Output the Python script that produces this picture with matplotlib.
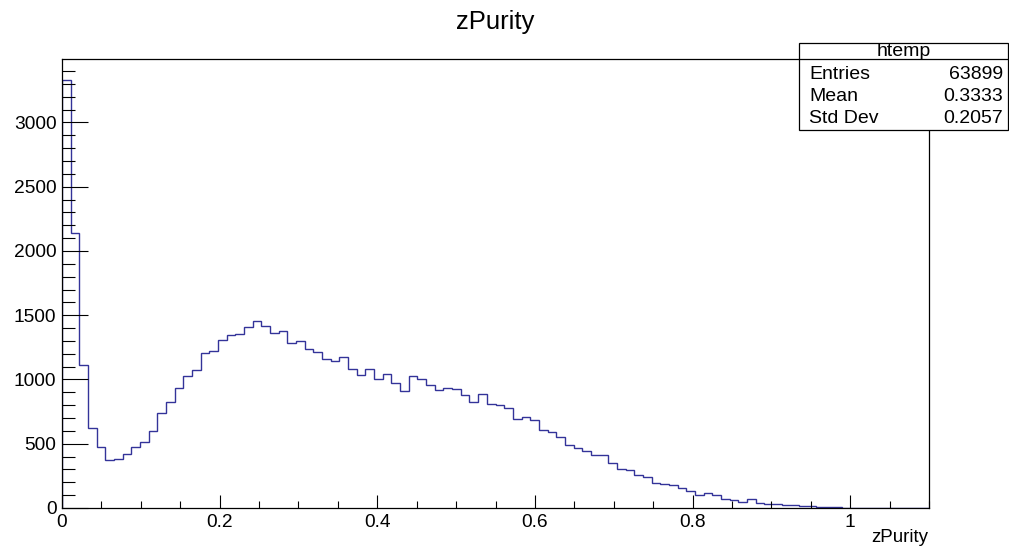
import numpy as np
import matplotlib
matplotlib.use("Agg")
import matplotlib.pyplot as plt
from matplotlib.patches import Rectangle
from matplotlib.lines import Line2D
from matplotlib.ticker import MultipleLocator, FuncFormatter

plt.rcParams['font.family'] = ['Liberation Sans', 'DejaVu Sans']

# ---- data ----
x_min, x_max, n_bins = 0.0, 1.1, 100
counts = [
    3328, 2137, 1115, 622, 474, 372, 380, 424, 476, 512,
    601, 736, 824, 931, 1027, 1076, 1210, 1218, 1310, 1350,
    1355, 1409, 1456, 1414, 1362, 1380, 1287, 1297, 1235, 1217,
    1160, 1147, 1178, 1082, 1037, 1082, 1006, 1043, 970, 910,
    1027, 1001, 957, 918, 934, 926, 876, 821, 889, 806,
    800, 781, 689, 710, 681, 606, 590, 556, 494, 468,
    442, 416, 412, 353, 302, 298, 260, 239, 195, 190,
    177, 156, 135, 101, 114, 99, 68, 60, 47, 68,
    36, 29, 28, 24, 20, 15, 12, 8, 5, 4,
    3, 0, 0, 0, 0, 0, 0, 0, 0, 0,
]
title = "zPurity"
xlabel = "zPurity"
hist_name = "htemp"
stat_labels = ["Entries", "Mean", "Std Dev"]
stat_values = ["63899", "0.3333", "0.2057"]

edges = np.linspace(x_min, x_max, n_bins + 1)

# ---- figure ----
W, H = 1009, 549
fig = plt.figure(figsize=(W / 100, H / 100), dpi=100)
ax = fig.add_axes([62 / W, 1 - 508 / H, (929 - 62) / W, (508 - 59) / H])

ax.stairs(counts, edges, color="#333399", linewidth=1.0, baseline=0)

ax.set_xlim(x_min, x_max)
ax.set_ylim(0, 3494)

for s in ax.spines.values():
    s.set_color("black")
    s.set_linewidth(0.9)

ax.xaxis.set_major_locator(MultipleLocator(0.2))
ax.xaxis.set_minor_locator(MultipleLocator(0.05))
ax.yaxis.set_major_locator(MultipleLocator(500))
ax.yaxis.set_minor_locator(MultipleLocator(100))
ax.xaxis.set_major_formatter(FuncFormatter(lambda v, p: "%g" % round(v, 3)))
ax.yaxis.set_major_formatter(FuncFormatter(lambda v, p: "%d" % v))

ax.tick_params(axis="both", which="both", direction="in", top=False, right=False,
               color="black", width=0.8, labelsize=13.8)
ax.tick_params(axis="y", which="major", length=18.7, pad=4)
ax.tick_params(axis="y", which="minor", length=9.4)
ax.tick_params(axis="x", which="major", length=9.4, pad=4)
ax.tick_params(axis="x", which="minor", length=5)

# title & x label
fig.text(495 / W, 1 - 22 / H, title, ha="center", va="center", fontsize=18.5)
fig.text(928 / W, 1 - 538 / H, xlabel, ha="right", va="center", fontsize=13.5)

# stats box
bl, br = 799 / W, 1008 / W
bb, bt = 1 - 130 / H, 1 - 42.7 / H
fig.add_artist(Rectangle((bl, bb), br - bl, bt - bb, transform=fig.transFigure,
                         facecolor="white", edgecolor="black", linewidth=0.9, zorder=10))
yline = 1 - 59.3 / H
fig.add_artist(Line2D([bl, br], [yline, yline], transform=fig.transFigure,
                      color="black", linewidth=0.9, zorder=11))
fig.text((bl + br) / 2, 1 - 51.5 / H, hist_name, ha="center", va="center",
         fontsize=14, zorder=12)
row_y = [74.3, 96.7, 118.3]
for lab, val, yy in zip(stat_labels, stat_values, row_y):
    fig.text(809 / W, 1 - yy / H, lab, ha="left", va="center", fontsize=14, zorder=12)
    fig.text(1003 / W, 1 - yy / H, val, ha="right", va="center", fontsize=14, zorder=12)

fig.savefig("out.png", dpi=100, facecolor="white")
